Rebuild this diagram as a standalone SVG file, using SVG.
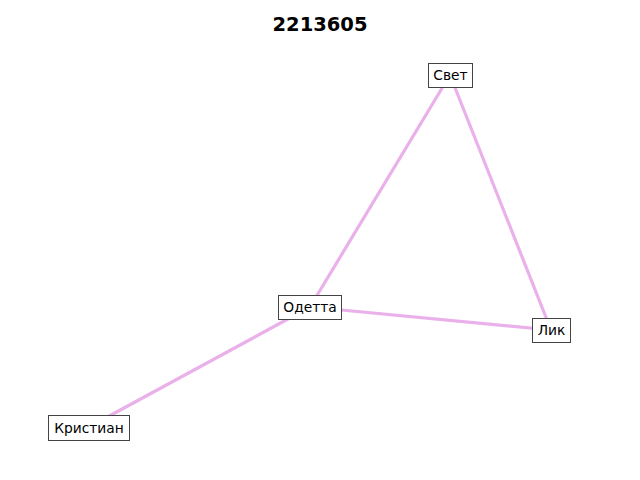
<svg xmlns="http://www.w3.org/2000/svg" width="640" height="480" viewBox="0 0 640 480">
<style>
.e{stroke:#EAB0EA;stroke-width:3.2;fill:none}
.b{fill:#fff;stroke:#444;stroke-width:1}
.t{font-family:"DejaVu Sans",sans-serif;font-size:13.8px;fill:#000;text-anchor:middle;dominant-baseline:central}
.h{font-family:"DejaVu Sans",sans-serif;font-size:19.5px;font-weight:bold;fill:#000;text-anchor:middle}
</style>
<rect width="640" height="480" fill="#fff"/>
<text class="h" x="320" y="31">2213605</text>
<g id="edges">
<line class="e" x1="450" y1="75" x2="310" y2="307"/>
<line class="e" x1="450" y1="75" x2="551" y2="330"/>
<line class="e" x1="310" y1="307" x2="551" y2="330"/>
<line class="e" x1="310" y1="307" x2="89" y2="427"/>
</g>
<g id="n-svet"><rect class="b" x="428.5" y="63.5" width="44" height="24"/><text class="t" x="450.5" y="75">Свет</text></g>
<g id="n-odetta"><rect class="b" x="278.5" y="295.5" width="63" height="24"/><text class="t" x="310" y="307">Одетта</text></g>
<g id="n-kristian"><rect class="b" x="48.5" y="415.5" width="81" height="25"/><text class="t" x="89" y="427.5">Кристиан</text></g>
<g id="n-lik"><rect class="b" x="532.5" y="318.5" width="38" height="24"/><text class="t" x="551.5" y="330">Лик</text></g>
</svg>
